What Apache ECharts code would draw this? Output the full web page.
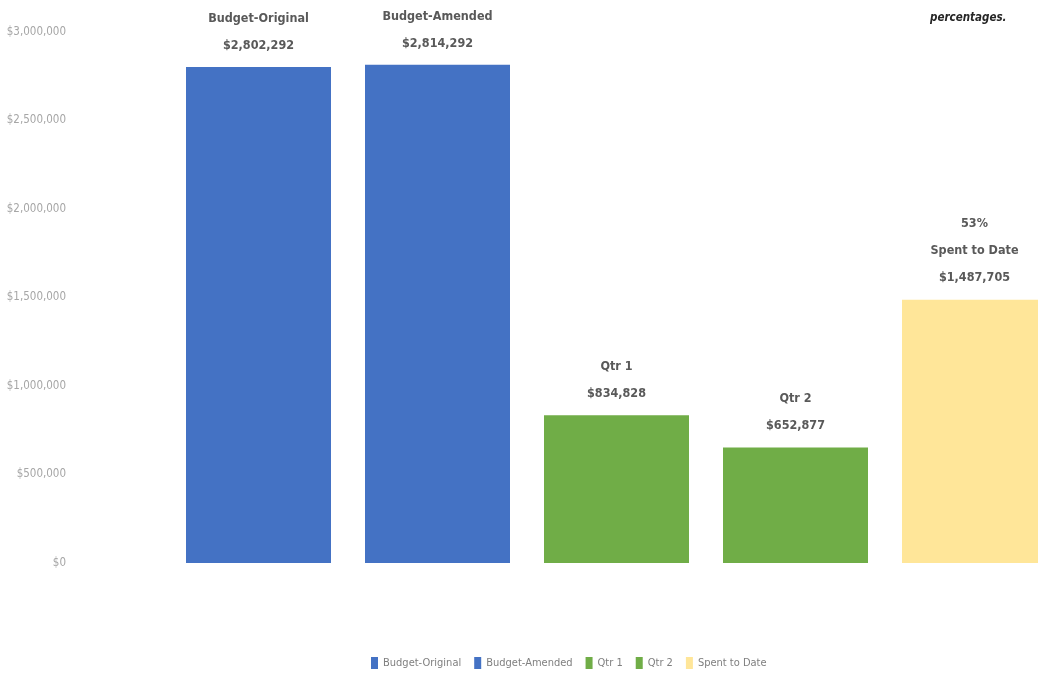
<!DOCTYPE html>
<html>
<head>
<meta charset="utf-8">
<script src="https://cdn.jsdelivr.net/npm/echarts@6/dist/echarts.min.js"></script>
<style>
  html, body { margin: 0; padding: 0; background: #fff; overflow: hidden; }
  /* the plot runs a little past the right edge of the window */
  #chart { width: 1064px; height: 675px; }
</style>
</head>
<body>
<div id="chart"></div>
<script>
// Budget vs. spending figures
const categories = ['Budget-Original', 'Budget-Amended', 'Qtr 1', 'Qtr 2', 'Spent to Date'];
const values = [2802292, 2814292, 834828, 652877, 1487705];
const colors = ['#4472C4', '#4472C4', '#70AD47', '#70AD47', '#FFE699'];
const yTicks = [0, 500000, 1000000, 1500000, 2000000, 2500000, 3000000];

const FONT = '"DejaVu Sans Condensed", "Liberation Sans Narrow", "Open Sans", sans-serif';
const money = v => '$' + Math.round(v).toLocaleString('en-US');
const spentPct = Math.round(values[4] / values[1] * 100);

const series = categories.map((name, i) => ({
  name,
  type: 'bar',
  barWidth: 145,
  barGap: '-100%',
  itemStyle: { color: colors[i] },
  data: categories.map((_, j) => (j === i ? values[i] : '-')),
  label: {
    show: true,
    position: 'top',
    distance: 8,
    color: '#595959',
    fontFamily: FONT,
    fontWeight: 'bold',
    fontSize: 12.5,
    lineHeight: 27,
    formatter: p => (i === 4 ? spentPct + '%\n' : '') + name + '\n' + money(p.value)
  }
}));

const chart = echarts.init(document.getElementById('chart'), null, { renderer: 'canvas' });
chart.setOption({
  backgroundColor: '#ffffff',
  animation: false,
  textStyle: { fontFamily: FONT },
  graphic: [{
    type: 'text',
    left: 930,
    top: 12,
    style: {
      text: 'percentages.',
      fill: '#262626',
      font: 'italic bold 11.5px ' + FONT
    }
  }],
  legend: {
    bottom: 1,
    left: 366,
    icon: 'rect',
    itemWidth: 7,
    itemHeight: 12,
    itemGap: 13,
    textStyle: { color: '#7f7f7f', fontSize: 11, fontFamily: FONT },
    data: categories
  },
  grid: { left: 169, right: 0, top: 32, bottom: 112, containLabel: false },
  xAxis: {
    type: 'category',
    data: categories,
    axisLine: { show: false },
    axisTick: { show: false },
    axisLabel: { show: false }
  },
  yAxis: {
    type: 'value',
    min: yTicks[0],
    max: yTicks[yTicks.length - 1],
    interval: yTicks[1] - yTicks[0],
    splitLine: { show: false },
    axisLine: { show: false },
    axisTick: { show: false },
    axisLabel: {
      margin: 103,
      color: '#a6a6a6',
      fontSize: 11.5,
      fontFamily: FONT,
      formatter: v => money(v)
    }
  },
  series
});
</script>
</body>
</html>
